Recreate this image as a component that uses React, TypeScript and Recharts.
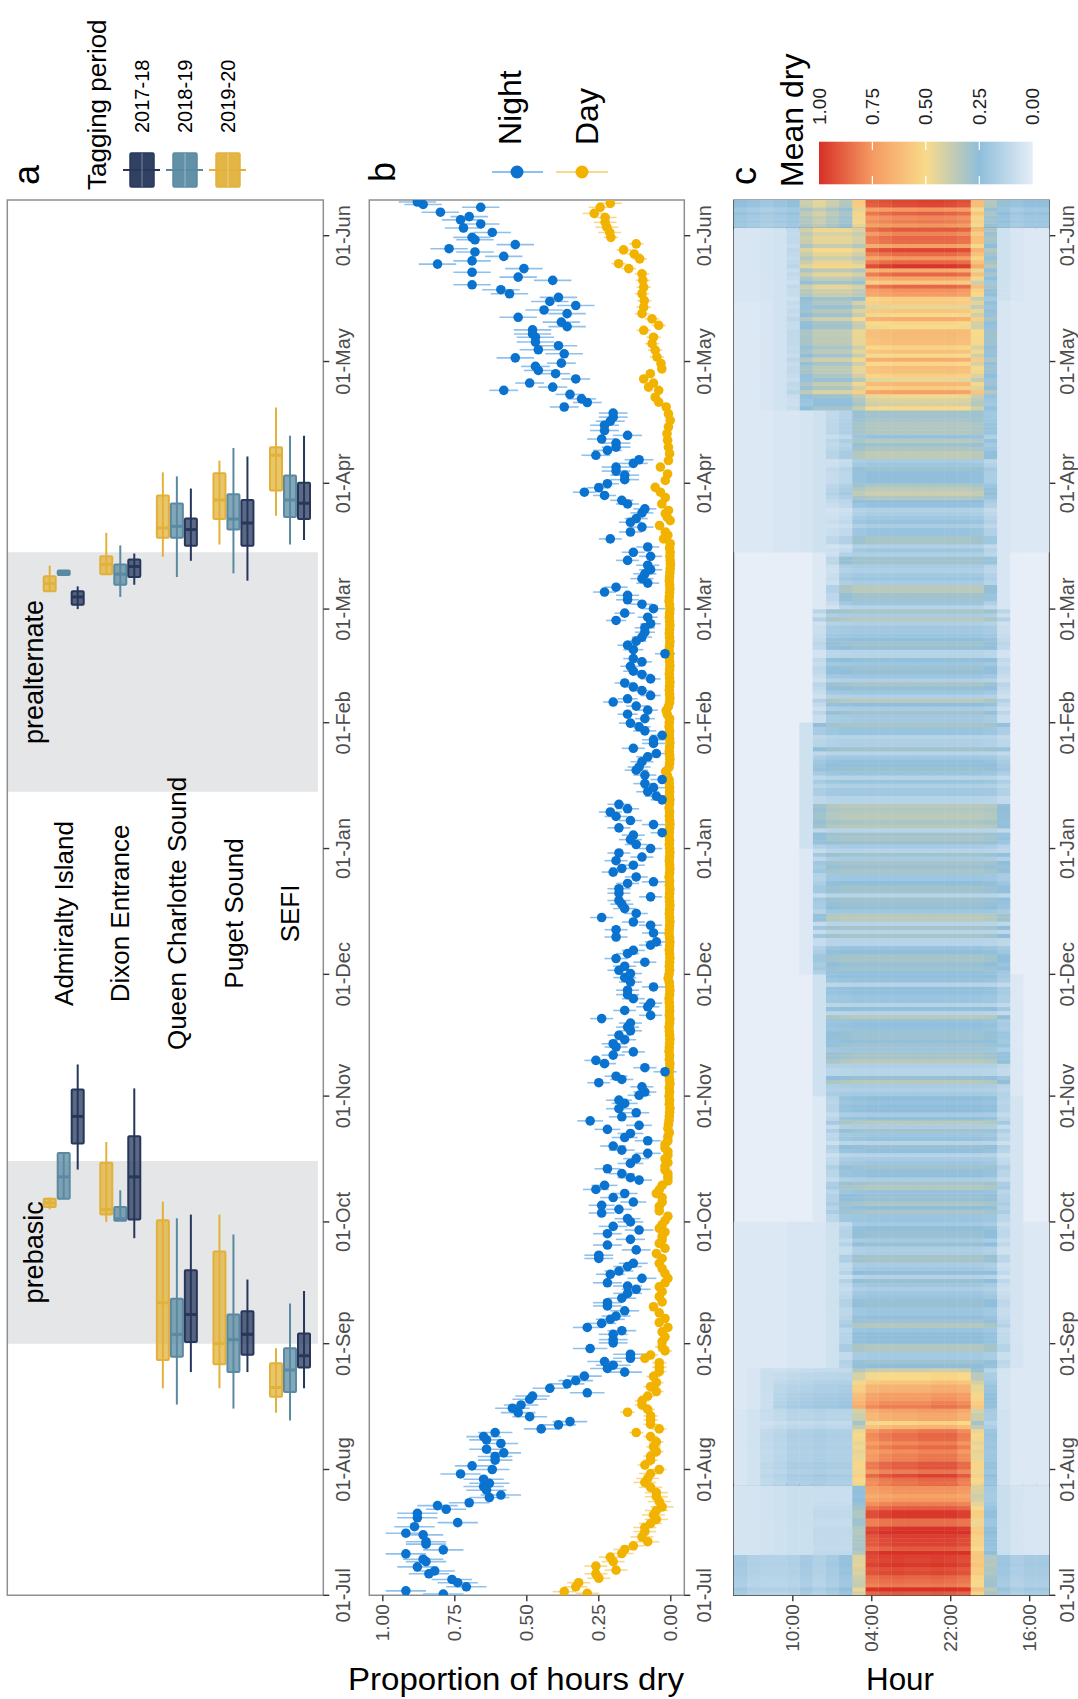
import React from 'react';
import {
  ComposedChart, ScatterChart, Scatter, Bar, XAxis, YAxis,
  ReferenceArea, ReferenceLine, ErrorBar, CartesianGrid,
} from 'recharts';

const FONT = '"Liberation Sans", Arial, Helvetica, sans-serif';
const W = 1078;
const H = 1699;
const TOP = 200;
const BOTTOM = 1595.3;
const DAY_MAX = 343.8;

// ---------- axes ----------
const DATE_TICKS = [0, 31, 62, 92, 123, 153, 184, 215, 243, 274, 304, 335];
const DATE_LABELS = ['01-Jul', '01-Aug', '01-Sep', '01-Oct', '01-Nov', '01-Dec', '01-Jan', '01-Feb', '01-Mar', '01-Apr', '01-May', '01-Jun'];
const PROP_TICKS = [0, 0.25, 0.5, 0.75, 1];
const PROP_LABELS = ['0.00', '0.25', '0.50', '0.75', '1.00'];
const HOUR_TICKS = [2, 8, 14, 20];
const HOUR_LABELS = ['16:00', '22:00', '04:00', '10:00'];

// ---------- panel a ----------
const SITES = ['Admiralty Island', 'Dixon Entrance', 'Queen Charlotte Sound', 'Puget Sound', 'SEFI'];
const PERIODS = ['2017-18', '2018-19', '2019-20'];
const PERIOD_COLORS = ['#26375b', '#5a8aa1', '#e2b13a'];
const LABEL_DAY = 168;
const PREBASIC_WINDOW = [62, 107];
const PREALT_WINDOW = [198, 257];
// [low whisker, q1, median, q3, high whisker] in days since 01-Jul
const PREBASIC_1718 = [[104.9, 111.3, 118, 124.6, 130.8], [88, 92.6, 103.1, 113.1, 124.9], [55, 62.4, 69.2, 80.1, 93.8], [55, 59.3, 64.3, 70, 77.8], [51, 56.1, 59, 64.5, 75]];
const PREBASIC_1819 = [[97.7, 97.7, 103.1, 109, 109], [92.3, 92.3, 92.8, 95.7, 99.8], [47, 58.8, 64.3, 73.1, 92.9], [46, 55, 63, 69.2, 88.9], [43.1, 50.1, 55.5, 60.9, 71.9]];
const PREBASIC_1920 = [[95.1, 95.7, 96.7, 97.7, 98], [92, 93.8, 95.1, 106.6, 111.7], [51, 58, 72.1, 92.4, 97], [51, 56.9, 62, 84.7, 93.8], [45, 48.9, 51.2, 57.2, 60.9]];
const PREALT_1718 = [[243, 244.1, 246, 247.4, 248.6], [249, 250.9, 253.5, 255.2, 256.7], [254.9, 258.6, 262.6, 265.3, 272.7], [250, 258.6, 264.2, 269.9, 280.6], [260, 265.2, 269.1, 274.1, 285.7]];
const PREALT_1819 = [[251.4, 251.4, 252, 252.5, 252.5], [246, 249, 251.6, 254, 258.7], [250.9, 260.6, 263.4, 269, 275.7], [251.8, 262.6, 265.2, 271.3, 282.7], [258.9, 265.7, 269.9, 275.9, 285.7]];
const PREALT_1920 = [[247.4, 247.4, 249.3, 251.1, 253.7], [251.6, 251.6, 254, 256, 261.8], [255.9, 260.6, 263, 271, 276.7], [258.9, 265.2, 269.9, 276.5, 279.6], [266, 272.2, 280.9, 282.9, 292.7]];

// ---------- panel b ----------
const NIGHT: [number, number][] = [
  [0.3, 0.79], [1.1, 0.92], [2.1, 0.71], [3.1, 0.74], [3.9, 0.76], [5.3, 0.84], [6, 0.82], [7, 0.88], [8.3, 0.85], [8.9, 0.86],
  [10.2, 0.92], [11.2, 0.79], [12.6, 0.85], [13.2, 0.85], [14.9, 0.86], [15.3, 0.92], [16.9, 0.89], [17.9, 0.74], [19.1, 0.88], [20.2, 0.88],
  [21.2, 0.78], [22.1, 0.81], [22.8, 0.70], [24.1, 0.63], [24.7, 0.59], [25.9, 0.64], [26.8, 0.65], [27.6, 0.63], [28.6, 0.65], [29.9, 0.73],
  [31, 0.62], [31.9, 0.69], [33.3, 0.61], [34.2, 0.61], [35.1, 0.58], [36, 0.64], [37.4, 0.59], [38.3, 0.64], [39.1, 0.65], [40.1, 0.61],
  [41, 0.45], [42, 0.39], [42.8, 0.35], [44, 0.49], [45, 0.53], [46.1, 0.55], [46.9, 0.52], [48.3, 0.49], [49.1, 0.48], [49.9, 0.29],
  [51, 0.42], [52.1, 0.36], [52.9, 0.33], [54, 0.30], [55, 0.16], [55.9, 0.22], [56.7, 0.20], [57.6, 0.23], [58.4, 0.14], [59.4, 0.14],
  [60.8, 0.28], [62.2, 0.20], [63, 0.20], [64.3, 0.20], [65.2, 0.17], [66, 0.29], [67, 0.24], [68, 0.21], [68.8, 0.19], [70.1, 0.16],
  [71.3, 0.22], [72.1, 0.22], [73.2, 0.17], [74.4, 0.15], [75.4, 0.12], [76.2, 0.15], [77, 0.22], [78.1, 0.10], [79.1, 0.21], [79.9, 0.18],
  [81, 0.15], [81.8, 0.13], [83, 0.25], [83.8, 0.25], [85.1, 0.12], [86.3, 0.22], [87.7, 0.14], [89.1, 0.22], [90, 0.11], [90.9, 0.20],
  [92, 0.14], [92.8, 0.15], [94.2, 0.24], [95.1, 0.18], [96.1, 0.24], [96.9, 0.13], [98, 0.20], [99, 0.16], [100, 0.26], [101, 0.23],
  [102.3, 0.11], [102.9, 0.14], [103.9, 0.17], [105.1, 0.22], [106.4, 0.14], [107.6, 0.12], [108.9, 0.08], [109.7, 0.17], [110.7, 0.20], [112, 0.08],
  [112.8, 0.16], [113.8, 0.14], [114.8, 0.22], [115.8, 0.11], [116.9, 0.28], [117.9, 0.17], [118.9, 0.12], [119.9, 0.18], [121.2, 0.16], [122, 0.18],
  [123.2, 0.11], [124, 0.09], [125.3, 0.10], [126.3, 0.25], [127.1, 0.17], [127.9, 0.19], [129, 0.02], [130, 0.09], [131, 0.23], [131.8, 0.26],
  [133.1, 0.20], [133.9, 0.13], [135.1, 0.19], [135.9, 0.20], [136.9, 0.16], [138, 0.18], [139.1, 0.14], [140, 0.15], [141, 0.14], [142.1, 0.24],
  [142.9, 0.07], [144.1, 0.16], [145, 0.08], [145.9, 0.07], [147, 0.13], [148, 0.15], [149.1, 0.15], [149.9, 0.06], [151.1, 0.14], [152.2, 0.16],
  [153.2, 0.14], [154, 0.18], [155, 0.16], [156, 0.09], [156.9, 0.19], [158.1, 0.15], [158.9, 0.13], [160.2, 0.07], [161, 0.05], [162.2, 0.19],
  [163.2, 0.06], [164, 0.19], [165.1, 0.07], [165.9, 0.13], [167, 0.24], [168, 0.12], [169.2, 0.16], [170.3, 0.17], [171.2, 0.18], [172.1, 0.07],
  [173, 0.18], [174.1, 0.18], [175.4, 0.15], [175.8, 0.06], [177, 0.12], [178.2, 0.20], [179.1, 0.17], [179.9, 0.13], [181, 0.19], [181.9, 0.10],
  [182.9, 0.18], [184, 0.07], [185, 0.12], [186.2, 0.14], [187.3, 0.13], [187.9, 0.03], [189.1, 0.18], [189.9, 0.06], [190.9, 0.14], [191.9, 0.19],
  [193, 0.21], [193.8, 0.15], [194.9, 0.18], [196, 0.03], [196.9, 0.05], [198, 0.08], [199, 0.06], [200, 0.09], [201, 0.03], [202.1, 0.09],
  [203.3, 0.12], [204.1, 0.11], [205.4, 0.10], [206.6, 0.08], [207.4, 0.05], [208.7, 0.13], [209.9, 0.06], [210.8, 0.06], [211.9, 0.03], [213, 0.09],
  [214, 0.11], [214.9, 0.14], [216, 0.09], [217.1, 0.15], [218.1, 0.08], [219.1, 0.12], [220.1, 0.20], [220.9, 0.15], [221.7, 0.07], [222.9, 0.10],
  [223.8, 0.13], [224.8, 0.16], [225.8, 0.07], [226.9, 0.10], [227.7, 0.13], [228.9, 0.14], [230, 0.10], [230.8, 0.13], [232, 0.02], [233, 0.13],
  [234.1, 0.15], [235.1, 0.12], [236.1, 0.10], [237.3, 0.09], [238.4, 0.09], [239.4, 0.07], [240.2, 0.19], [241, 0.08], [242, 0.16], [243.1, 0.06],
  [244.2, 0.10], [245.3, 0.15], [246.4, 0.15], [247.2, 0.23], [248.4, 0.19], [249.4, 0.08], [250.5, 0.10], [251.7, 0.09], [252.7, 0.07], [253.8, 0.08],
  [255, 0.15], [256, 0.07], [257, 0.13], [258.3, 0.08], [260.3, 0.21], [262, 0.14], [263.2, 0.10], [264.4, 0.14], [265.3, 0.12], [266.7, 0.10],
  [267.7, 0.09], [268.9, 0.15], [269.8, 0.17], [271, 0.23], [271.8, 0.30], [272.9, 0.25], [273.9, 0.22], [274.9, 0.16], [276, 0.16], [277, 0.19],
  [278, 0.19], [278.9, 0.13], [279.8, 0.11], [280.9, 0.26], [282.1, 0.22], [282.9, 0.19], [283.9, 0.19], [284.9, 0.24], [285.8, 0.15], [287, 0.23],
  [288.3, 0.23], [289.3, 0.21], [290.3, 0.20], [291.3, 0.20], [292.8, 0.37], [293.9, 0.29], [294.8, 0.31], [295.9, 0.35], [296.9, 0.58], [297.7, 0.41],
  [298.7, 0.49], [299.7, 0.33], [301, 0.40], [301.8, 0.46], [302.8, 0.47], [303.6, 0.38], [304.9, 0.54], [305.9, 0.37], [306.9, 0.46], [307.9, 0.39],
  [308.8, 0.47], [310, 0.47], [310.8, 0.48], [311.8, 0.48], [312.6, 0.36], [313.7, 0.38], [314.9, 0.53], [315.8, 0.36], [316.7, 0.44], [317.8, 0.33],
  [318.8, 0.42], [319.8, 0.39], [320.7, 0.56], [321.7, 0.59], [322.9, 0.69], [324, 0.41], [324.8, 0.53], [326, 0.69], [326.9, 0.51], [328, 0.81],
  [328.8, 0.69], [329.9, 0.58], [331, 0.68], [331.8, 0.77], [332.8, 0.54], [334, 0.68], [334.6, 0.69], [335.8, 0.62], [336.9, 0.72], [337.9, 0.66],
  [338.9, 0.73], [339.7, 0.70], [340.8, 0.80], [342, 0.66], [342.7, 0.86], [343.3, 0.88],
];
const DAY_EARLY: [number, number][] = [
  [0.5, 0.29], [0.9, 0.37], [2.1, 0.33], [3.1, 0.32], [4.2, 0.25], [5.3, 0.26], [6.2, 0.19], [7.2, 0.26], [8.3, 0.20], [9.4, 0.21],
  [10.3, 0.17], [11.3, 0.16], [12.2, 0.13], [13.2, 0.08], [14.4, 0.10], [15.7, 0.09], [16.7, 0.09], [17.7, 0.07], [18.7, 0.05], [19.8, 0.06],
  [20.9, 0.05], [21.8, 0.03], [23.1, 0.04], [24.3, 0.05], [25.3, 0.05], [26.6, 0.07], [27.8, 0.09], [28.8, 0.08], [30, 0.07], [31, 0.04],
  [32.1, 0.09], [33.3, 0.07], [34.3, 0.07], [35.4, 0.05], [36.6, 0.06], [37.8, 0.05], [39.1, 0.07], [40.1, 0.12], [41, 0.04], [42.1, 0.07],
  [43.2, 0.07], [44.2, 0.07], [45.1, 0.15], [45.8, 0.08], [46.9, 0.10], [47.9, 0.10], [49.1, 0.08], [50.2, 0.05], [51.4, 0.07], [52.4, 0.05],
  [53.9, 0.06], [55.1, 0.04], [56.2, 0.04], [57.3, 0.04], [58.4, 0.09], [59.2, 0.07], [60.2, 0.02], [61.2, 0.03], [62.5, 0.03], [63.7, 0.02],
  [64.9, 0.03], [66, 0.01], [67.2, 0.04], [68.2, 0.02], [69.6, 0.04], [71.1, 0.06], [72.3, 0.03], [73.6, 0.04], [74.8, 0.03], [76, 0.04],
  [77, 0.02], [78.1, 0.01], [79.3, 0.02], [80.5, 0.03], [81.8, 0.04], [83, 0.03], [84.2, 0.05], [85.5, 0.02], [86.7, 0.04], [87.6, 0.03],
  [88.5, 0.03], [89.5, 0.02], [90.4, 0.04], [91.3, 0.03], [92.3, 0.02], [93.4, 0.01], [94.7, 0.04], [95.8, 0.04], [96.9, 0.03], [98, 0.03],
  [99, 0.05], [99.9, 0.04], [101, 0.03], [102.1, 0.01], [103, 0.01], [103.9, 0.01], [104.8, 0.02], [105.7, 0.02], [106.6, 0.01], [107.5, 0.02],
  [108.4, 0.01], [109.3, 0.01], [110.2, 0.02], [111.1, 0.02], [112, 0.01], [113, 0.01], [114, 0.005], [115, 0.01], [116, 0.008], [117, 0.006], [118, 0.005],
];
const DAY_WINTER_START = 119;
const DAY_WINTER = [
  0.004, 0.003, 0.005, 0.004, 0.006, 0.004, 0.005, 0.003, 0.004, 0.006,
  0.005, 0.004, 0.003, 0.005, 0.004, 0.006, 0.005, 0.004, 0.003, 0.004,
  0.005, 0.006, 0.004, 0.003, 0.005, 0.004, 0.004, 0.005, 0.006, 0.004,
  0.003, 0.004, 0.005, 0.009, 0.006, 0.004, 0.005, 0.004, 0.003, 0.004,
  0.005, 0.004, 0.003, 0.004, 0.006, 0.005, 0.004, 0.003, 0.004, 0.005,
  0.004, 0.003, 0.004, 0.005, 0.004, 0.003, 0.005, 0.004, 0.006, 0.004,
  0.003, 0.004, 0.005, 0.004, 0.003, 0.004, 0.005, 0.004, 0.006, 0.005,
  0.004, 0.003, 0.004, 0.005, 0.004, 0.006, 0.004, 0.003, 0.005, 0.004,
  0.004, 0.005, 0.006, 0.012, 0.018, 0.006, 0.004, 0.003, 0.004, 0.005,
  0.004, 0.003, 0.004, 0.005, 0.004, 0.006, 0.005, 0.004, 0.012, 0.016,
  0.008, 0.004, 0.003, 0.004, 0.005, 0.004, 0.003, 0.004, 0.005, 0.004,
  0.003, 0.004, 0.005, 0.004, 0.006, 0.004, 0.003, 0.004, 0.005, 0.004,
  0.003, 0.004, 0.005, 0.004, 0.003, 0.004, 0.006, 0.005, 0.004, 0.003,
  0.004, 0.005, 0.004, 0.003, 0.002, 0.001, 0.002, 0.003, 0.002, 0.004,
];
const DAY_LATE: [number, number][] = [
  [259.1, 0.002], [260.3, 0.025], [261.2, 0.01], [262, 0.019], [263.6, 0.039], [264.8, 0.002], [265.6, 0.012], [266.5, 0.019], [267.3, 0.008], [268.9, 0.031],
  [270.5, 0.019], [271.8, 0.036], [273, 0.054], [274.7, 0.019], [276.3, 0.011], [278, 0.036], [279.6, 0.008], [281.3, 0.004], [282.9, 0.008], [284.6, 0.011],
  [286.2, 0.013], [287.9, 0.008], [289.5, 0.002], [291.1, 0.008], [292.8, 0.016], [294, 0.042], [295.2, 0.054], [296.9, 0.042], [297.7, 0.077], [298.7, 0.06],
  [299.7, 0.094], [301, 0.071], [302.2, 0.031], [303.5, 0.034], [305.1, 0.048], [306.8, 0.054], [308.4, 0.065], [310, 0.06], [311.7, 0.094], [312.9, 0.042],
  [314.5, 0.065], [315.8, 0.1], [317.4, 0.094], [319, 0.092], [320.7, 0.1], [322.3, 0.094], [324, 0.097], [325.6, 0.1], [326.9, 0.146], [328.1, 0.181],
  [329.3, 0.108], [330.5, 0.127], [331.5, 0.164], [333, 0.12], [334.6, 0.208], [335.8, 0.212], [337.1, 0.222], [338.3, 0.228], [339.5, 0.228], [340.5, 0.266],
  [342, 0.245], [343, 0.21],
];
// error bar half widths by month (Jul..Jun)
const NIGHT_ERR = [0.07, 0.06, 0.05, 0.045, 0.04, 0.04, 0.04, 0.035, 0.04, 0.05, 0.065, 0.065];
const DAY_ERR = [0.04, 0.025, 0.012, 0.008, 0.004, 0.003, 0.003, 0.003, 0.004, 0.012, 0.025, 0.04];

// ---------- panel c ----------
const HEAT_START = [0, 10, 27, 46, 56, 92, 123, 153, 184, 215, 243, 257, 292, 319, 337];
// mean dry per hour column (k = 1..24 -> 15:00,16:00,...,23:00,00:00,...,14:00)
const HEAT_PROFILE = [
  [0.18, 0.18, 0.16, 0.2, 0.32, 0.55, 0.9, 0.92, 0.93, 0.92, 0.92, 0.93, 0.92, 0.9, 0.42, 0.22, 0.18, 0.15, 0.18, 0.15, 0.14, 0.14, 0.15, 0.18],
  [0.04, 0.04, 0.05, 0.08, 0.22, 0.5, 0.88, 0.9, 0.9, 0.9, 0.9, 0.9, 0.88, 0.85, 0.3, 0.1, 0.1, 0.1, 0.08, 0.08, 0.07, 0.06, 0.05, 0.05],
  [0.03, 0.03, 0.03, 0.06, 0.2, 0.45, 0.75, 0.8, 0.8, 0.8, 0.78, 0.78, 0.76, 0.72, 0.45, 0.15, 0.15, 0.16, 0.15, 0.15, 0.12, 0.1, 0.06, 0.04],
  [0.03, 0.03, 0.03, 0.05, 0.2, 0.42, 0.6, 0.62, 0.62, 0.6, 0.6, 0.6, 0.6, 0.58, 0.5, 0.16, 0.15, 0.15, 0.14, 0.13, 0.11, 0.08, 0.04, 0.03],
  [0.03, 0.03, 0.05, 0.1, 0.22, 0.24, 0.24, 0.24, 0.24, 0.24, 0.24, 0.24, 0.24, 0.24, 0.23, 0.13, 0.07, 0.04, 0.04, 0.04, 0.03, 0.03, 0.03, 0.03],
  [0.02, 0.02, 0.05, 0.13, 0.23, 0.24, 0.24, 0.24, 0.24, 0.24, 0.24, 0.24, 0.24, 0.24, 0.23, 0.22, 0.13, 0.03, 0.02, 0.02, 0.02, 0.02, 0.02, 0.02],
  [0.02, 0.02, 0.03, 0.18, 0.23, 0.24, 0.24, 0.24, 0.24, 0.24, 0.24, 0.24, 0.24, 0.24, 0.24, 0.23, 0.22, 0.07, 0.02, 0.02, 0.02, 0.02, 0.02, 0.02],
  [0.02, 0.02, 0.02, 0.2, 0.23, 0.24, 0.24, 0.24, 0.24, 0.24, 0.24, 0.24, 0.24, 0.24, 0.24, 0.24, 0.23, 0.16, 0.03, 0.02, 0.02, 0.02, 0.02, 0.02],
  [0.02, 0.02, 0.02, 0.18, 0.23, 0.24, 0.24, 0.24, 0.24, 0.24, 0.24, 0.24, 0.24, 0.24, 0.24, 0.24, 0.23, 0.2, 0.07, 0.02, 0.02, 0.02, 0.02, 0.02],
  [0.02, 0.02, 0.02, 0.1, 0.22, 0.24, 0.24, 0.24, 0.24, 0.24, 0.24, 0.24, 0.24, 0.24, 0.24, 0.23, 0.22, 0.1, 0.02, 0.02, 0.02, 0.02, 0.02, 0.02],
  [0.02, 0.02, 0.02, 0.04, 0.18, 0.24, 0.24, 0.24, 0.24, 0.24, 0.24, 0.24, 0.24, 0.24, 0.24, 0.22, 0.1, 0.03, 0.02, 0.02, 0.02, 0.02, 0.02, 0.02],
  [0.03, 0.03, 0.03, 0.04, 0.18, 0.26, 0.27, 0.27, 0.27, 0.27, 0.27, 0.27, 0.27, 0.27, 0.25, 0.13, 0.1, 0.07, 0.05, 0.04, 0.04, 0.03, 0.03, 0.03],
  [0.03, 0.03, 0.03, 0.04, 0.26, 0.45, 0.55, 0.56, 0.56, 0.56, 0.56, 0.56, 0.55, 0.54, 0.42, 0.33, 0.33, 0.33, 0.28, 0.1, 0.06, 0.04, 0.03, 0.03],
  [0.03, 0.03, 0.04, 0.07, 0.28, 0.55, 0.78, 0.8, 0.8, 0.8, 0.8, 0.8, 0.78, 0.75, 0.38, 0.42, 0.42, 0.42, 0.36, 0.1, 0.06, 0.05, 0.04, 0.04],
  [0.22, 0.22, 0.2, 0.24, 0.3, 0.55, 0.82, 0.84, 0.85, 0.85, 0.84, 0.84, 0.82, 0.8, 0.5, 0.3, 0.35, 0.4, 0.35, 0.22, 0.2, 0.18, 0.2, 0.22],
];
const TAG_LINES = [27.2, 336.9];
const HEAT_STOPS: [number, number[]][] = [
  [0, [230, 238, 247]], [0.25, [143, 190, 219]], [0.5, [249, 218, 138]], [0.75, [245, 154, 98]], [1, [215, 48, 39]],
];

// ---------- derived ----------
const monthOf = (d: number) => {
  let m = 0;
  DATE_TICKS.forEach((t, i) => { if (d >= t) m = i; });
  return m;
};
const nightData = NIGHT.map(([d, v]) => ({ d, v, e: NIGHT_ERR[monthOf(d)] }));
const dayPairs: [number, number][] = [
  ...DAY_EARLY,
  ...DAY_WINTER.map((v, i) => [DAY_WINTER_START + i, v] as [number, number]),
  ...DAY_LATE,
];
const dayData = dayPairs.map(([d, v]) => ({ d, v, e: DAY_ERR[monthOf(d)] }));

const heatColor = (v: number) => {
  for (let i = 1; i < HEAT_STOPS.length; i++) {
    const [v1, c1] = HEAT_STOPS[i];
    const [v0, c0] = HEAT_STOPS[i - 1];
    if (v <= v1) {
      const t = (v - v0) / (v1 - v0);
      const c = c0.map((x, j) => Math.round(x + (c1[j] - x) * t));
      return `rgb(${c[0]},${c[1]},${c[2]})`;
    }
  }
  return 'rgb(215,48,39)';
};
const periodOf = (d: number) => {
  let p = 0;
  HEAT_START.forEach((s, i) => { if (d >= s) p = i; });
  return p;
};
const periodMeans = HEAT_START.map((s, i) => {
  const e = i + 1 < HEAT_START.length ? HEAT_START[i + 1] : 400;
  const vals = NIGHT.filter(([d]) => d >= s && d < e).map((x) => x[1]);
  return vals.reduce((a, b) => a + b, 0) / Math.max(1, vals.length);
});
const nearestNight = (t: number) => {
  let best = NIGHT[0][1];
  let bd = Infinity;
  for (const [d, v] of NIGHT) {
    const dd = Math.abs(d - t);
    if (dd < bd) { bd = dd; best = v; }
  }
  return best;
};
const heatCells: { k: number; d: number; fill: string }[] = [];
for (let day = 0; day < 344; day++) {
  const p = periodOf(day);
  const prof = HEAT_PROFILE[p];
  const ratio = Math.pow(Math.min(1.6, Math.max(0.5, nearestNight(day + 0.5) / periodMeans[p])), 0.8);
  for (let k = 1; k <= 24; k++) {
    const base = prof[k - 1];
    const v = Math.min(1, base >= 0.1 ? base * ratio : base);
    if (v >= 0.025) heatCells.push({ k, d: day + 0.5, fill: heatColor(v) });
  }
}

const boxRows = SITES.map((site, i) => ({
  site,
  pb: [PREBASIC_1718[i], PREBASIC_1819[i], PREBASIC_1920[i]],
  pa: [PREALT_1718[i], PREALT_1819[i], PREALT_1920[i]],
}));
const siteLabelRows = SITES.map((site, i) => ({ x: i + 1, y: LABEL_DAY, site }));

// ---------- render helpers ----------
const TICK_LINE = { stroke: '#333', strokeWidth: 1.4 };

const dateTick = (dx: number) => (props: any) => {
  const { x, y, payload } = props;
  const i = DATE_TICKS.indexOf(payload.value);
  return (
    <text transform={`translate(${x + dx},${y}) rotate(-90)`} textAnchor="middle" dominantBaseline="central"
      fontSize={20} fill="#4d4d4d" fontFamily={FONT}>{DATE_LABELS[i]}</text>
  );
};
const bottomTick = (ticks: number[], labels: string[]) => (props: any) => {
  const { x, y, payload } = props;
  const i = ticks.indexOf(payload.value);
  return (
    <text transform={`translate(${x},${y + 1}) rotate(-90)`} textAnchor="end" dominantBaseline="central"
      fontSize={19} fill="#4d4d4d" fontFamily={FONT}>{labels[i]}</text>
  );
};

const boxShape = (pi: number) => (props: any) => {
  const { x, y, width, height, payload } = props;
  const color = PERIOD_COLORS[pi];
  const pb = payload.pb[pi];
  const pa = payload.pa[pi];
  const lo = pb[0];
  const hi = pa[4];
  const k = height / (hi - lo);
  const py = (v: number) => y + (hi - v) * k;
  const cx = x + width / 2;
  const draw = (s: number[], key: string) => (
    <g key={key}>
      <line x1={cx} x2={cx} y1={py(s[4])} y2={py(s[0])} stroke={color} strokeWidth={2} />
      <rect x={x + 1} y={py(s[3])} width={width - 2} height={Math.max(py(s[1]) - py(s[3]), 2.5)}
        fill={color} fillOpacity={0.75} stroke={color} strokeWidth={2} rx={1} />
      <line x1={x + 1} x2={x + width - 1} y1={py(s[2])} y2={py(s[2])} stroke={color} strokeWidth={3} />
    </g>
  );
  return <g>{draw(pb, 'pb')}{draw(pa, 'pa')}</g>;
};

const siteLabel = (props: any) => {
  const { cx, cy, payload } = props;
  return (
    <text transform={`translate(${cx},${cy}) rotate(-90)`} textAnchor="middle" dominantBaseline="central"
      fontSize={26} fill="#000" fontFamily={FONT}>{payload.site}</text>
  );
};
const moltLabel = (text: string) => (props: any) => {
  const vb = props.viewBox || {};
  const cx = vb.x + 27;
  const cy = vb.y + vb.height / 2;
  return (
    <text transform={`translate(${cx},${cy}) rotate(-90)`} textAnchor="middle" dominantBaseline="central"
      fontSize={27} fill="#000" fontFamily={FONT}>{text}</text>
  );
};

const dot = (color: string) => (props: any) => <circle cx={props.cx} cy={props.cy} r={4.8} fill={color} />;

// ---------- panels ----------
const SITE_DOMAIN = [0, 5.585];
const PanelABack = () => (
  <ScatterChart width={W} height={H} margin={{ top: TOP, right: W - 323.3 - 40, bottom: H - BOTTOM, left: 7.3 }}>
    <XAxis type="number" dataKey="x" domain={SITE_DOMAIN} allowDataOverflow hide />
    <YAxis type="number" dataKey="y" orientation="right" width={40} domain={[0, DAY_MAX]} allowDataOverflow
      ticks={DATE_TICKS} interval={0} axisLine={false} tickLine={TICK_LINE} tick={dateTick(12)} />
    <ReferenceArea x1={0} x2={5.49} y1={PREBASIC_WINDOW[0]} y2={PREBASIC_WINDOW[1]} fill="#e5e6e7" fillOpacity={1}
      stroke="none" label={moltLabel('prebasic')} />
    <ReferenceArea x1={0} x2={5.49} y1={PREALT_WINDOW[0]} y2={PREALT_WINDOW[1]} fill="#e5e6e7" fillOpacity={1}
      stroke="none" label={moltLabel('prealternate')} />
    <ReferenceArea x1={0} x2={5.585} y1={0} y2={DAY_MAX} fill="none" fillOpacity={0} stroke="#8f8f8f" strokeWidth={1.5} />
    <Scatter data={siteLabelRows} shape={siteLabel} isAnimationActive={false} />
  </ScatterChart>
);

const PanelAFront = () => (
  <ComposedChart width={W} height={H} data={boxRows} margin={{ top: TOP, right: W - 318.6, bottom: H - BOTTOM, left: 35.7 }}
    barCategoryGap={7} barGap={0}>
    <XAxis dataKey="site" type="category" hide />
    <YAxis type="number" domain={[0, DAY_MAX]} allowDataOverflow hide />
    {[2, 1, 0].map((pi) => (
      <Bar key={PERIODS[pi]} dataKey={(r: any) => [r.pb[pi][0], r.pa[pi][4]]} shape={boxShape(pi)} isAnimationActive={false} />
    ))}
  </ComposedChart>
);

const PanelB = () => (
  <ScatterChart width={W} height={H} margin={{ top: TOP, right: W - 684.3 - 40, bottom: H - BOTTOM - 40, left: 369.3 }}>
    <XAxis type="number" dataKey="v" domain={[-0.047, 1.047]} reversed allowDataOverflow ticks={PROP_TICKS} interval={0}
      height={40} axisLine={false} tickLine={TICK_LINE} tick={bottomTick(PROP_TICKS, PROP_LABELS)} />
    <YAxis type="number" dataKey="d" orientation="right" width={40} domain={[0, DAY_MAX]} allowDataOverflow
      ticks={DATE_TICKS} interval={0} axisLine={false} tickLine={TICK_LINE} tick={dateTick(12)} />
    <ReferenceArea x1={-0.047} x2={1.047} y1={0} y2={DAY_MAX} fill="none" fillOpacity={0} stroke="#8f8f8f" strokeWidth={1.5} />
    <Scatter name="Day" data={dayData} shape={dot('#f2b200')} isAnimationActive={false}>
      <ErrorBar dataKey="e" direction="x" width={0} stroke="#f6d98c" strokeWidth={1.6} />
    </Scatter>
    <Scatter name="Night" data={nightData} shape={dot('#0a72cf')} isAnimationActive={false}>
      <ErrorBar dataKey="e" direction="x" width={0} stroke="#8fc1ec" strokeWidth={1.6} />
    </Scatter>
  </ScatterChart>
);

const CELL_W = (1049.4 - 733.6) / 24;
const CELL_H = (BOTTOM - TOP) / DAY_MAX;
const cellShape = (props: any) => (
  <rect x={props.cx - CELL_W / 2} y={props.cy - CELL_H / 2 - 0.2} width={CELL_W + 0.3} height={CELL_H + 0.4}
    fill={props.payload.fill} />
);

const PanelC = () => (
  <ScatterChart width={W} height={H} margin={{ top: TOP, right: W - 1049.4 - 25, bottom: H - BOTTOM - 40, left: 733.6 }}>
    <CartesianGrid horizontal={false} vertical={false} fill="#e7eef7" />
    <XAxis type="number" dataKey="k" domain={[0.5, 24.5]} reversed allowDataOverflow ticks={HOUR_TICKS} interval={0}
      height={40} axisLine={false} tickLine={TICK_LINE} tick={bottomTick(HOUR_TICKS, HOUR_LABELS)} />
    <YAxis type="number" dataKey="d" orientation="right" width={25} domain={[0, DAY_MAX]} allowDataOverflow
      ticks={DATE_TICKS} interval={0} axisLine={false} tickLine={TICK_LINE} tick={dateTick(10)} />
    <Scatter data={heatCells} shape={cellShape} isAnimationActive={false} />
    {TAG_LINES.map((d) => <ReferenceLine key={d} y={d} stroke="#000" strokeWidth={2.5} />)}
    <ReferenceArea x1={0.5} x2={24.5} y1={0} y2={DAY_MAX} fill="none" fillOpacity={0} stroke="#555" strokeWidth={1.2} />
  </ScatterChart>
);

// ---------- legends / titles ----------
const rot = (x: number, y: number) => `translate(${x},${y}) rotate(-90)`;
const KEY_X = [142, 185, 228];

const Overlay = () => (
  <svg width={W} height={H} style={{ position: 'absolute', left: 0, top: 0, pointerEvents: 'none' }} fontFamily={FONT}>
    <defs>
      <linearGradient id="cbar" x1="0" x2="1" y1="0" y2="0">
        <stop offset="0" stopColor="rgb(215,48,39)" />
        <stop offset="0.25" stopColor="rgb(245,154,98)" />
        <stop offset="0.5" stopColor="rgb(249,218,138)" />
        <stop offset="0.75" stopColor="rgb(143,190,219)" />
        <stop offset="1" stopColor="rgb(230,238,247)" />
      </linearGradient>
    </defs>
    {/* panel letters */}
    <text transform={rot(26, 175)} textAnchor="middle" dominantBaseline="central" fontSize={36}>a</text>
    <text transform={rot(382, 172)} textAnchor="middle" dominantBaseline="central" fontSize={36}>b</text>
    <text transform={rot(743, 176)} textAnchor="middle" dominantBaseline="central" fontSize={36}>c</text>

    {/* legend a */}
    <text transform={rot(97, 190)} textAnchor="start" dominantBaseline="central" fontSize={26}>Tagging period</text>
    {PERIODS.map((p, i) => (
      <g key={p}>
        <text transform={rot(KEY_X[i], 133)} textAnchor="start" dominantBaseline="central" fontSize={20}>{p}</text>
        <line x1={KEY_X[i] - 19} x2={KEY_X[i] + 18} y1={170} y2={170} stroke={PERIOD_COLORS[i]} strokeWidth={2} />
        <rect x={KEY_X[i] - 12} y={153} width={24} height={34} fill={PERIOD_COLORS[i]} fillOpacity={0.95}
          stroke={PERIOD_COLORS[i]} strokeWidth={1.5} rx={1.5} />
        <line x1={KEY_X[i]} x2={KEY_X[i]} y1={153} y2={187} stroke="#ffffff" strokeOpacity={0.18} strokeWidth={2} />
      </g>
    ))}

    {/* legend b */}
    <text transform={rot(510, 145)} textAnchor="start" dominantBaseline="central" fontSize={32}>Night</text>
    <text transform={rot(587, 145)} textAnchor="start" dominantBaseline="central" fontSize={32}>Day</text>
    <line x1={492} x2={543} y1={172} y2={172} stroke="#8fc1ec" strokeWidth={2} />
    <circle cx={517} cy={172} r={6.5} fill="#0a72cf" />
    <line x1={556} x2={608} y1={172} y2={172} stroke="#f6d98c" strokeWidth={2} />
    <circle cx={582} cy={172} r={6.5} fill="#f2b200" />

    {/* legend c */}
    <text transform={rot(792, 187)} textAnchor="start" dominantBaseline="central" fontSize={32}>Mean dry</text>
    <rect x={819} y={141.7} width={213.7} height={42.6} fill="url(#cbar)" />
    {[872.4, 925.8, 979.3].map((x) => (
      <g key={x}>
        <line x1={x} x2={x} y1={141.7} y2={150} stroke="#fff" strokeWidth={1.2} />
        <line x1={x} x2={x} y1={176} y2={184.3} stroke="#fff" strokeWidth={1.2} />
      </g>
    ))}
    {['1.00', '0.75', '0.50', '0.25', '0.00'].map((l, i) => (
      <text key={l} transform={rot(819 + i * 53.4, 125)} textAnchor="start" dominantBaseline="central" fontSize={19} fill="#222">{l}</text>
    ))}

    {/* axis titles */}
    <text x={516} y={1690} textAnchor="middle" fontSize={31} textLength={336} lengthAdjust="spacingAndGlyphs">Proportion of hours dry</text>
    <text x={900} y={1690} textAnchor="middle" fontSize={31} textLength={68} lengthAdjust="spacingAndGlyphs">Hour</text>
  </svg>
);

export default function App() {
  return (
    <div style={{ position: 'absolute', left: 0, top: 0, width: W, height: H, background: '#fff', overflow: 'hidden' }}>
      <div style={{ position: 'absolute', left: 0, top: 0 }}><PanelABack /></div>
      <div style={{ position: 'absolute', left: 0, top: 0 }}><PanelAFront /></div>
      <div style={{ position: 'absolute', left: 0, top: 0 }}><PanelB /></div>
      <div style={{ position: 'absolute', left: 0, top: 0 }}><PanelC /></div>
      <Overlay />
    </div>
  );
}
